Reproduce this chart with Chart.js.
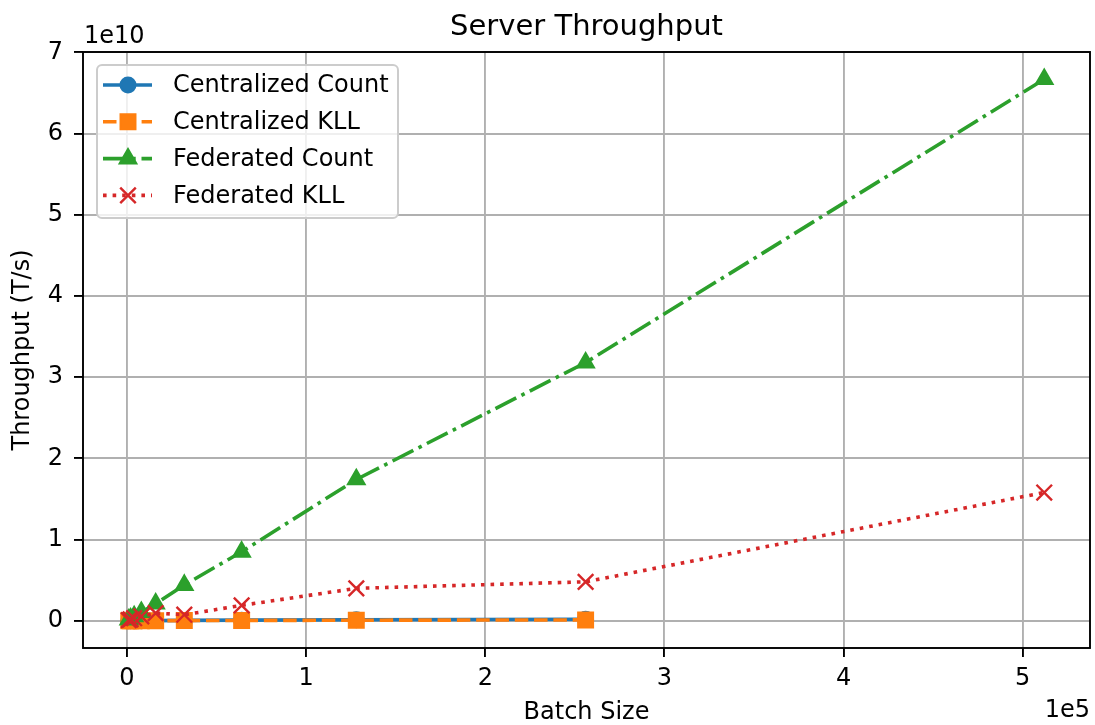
<!DOCTYPE html>
<html>
<head>
<meta charset="utf-8">
<script src="https://cdn.jsdelivr.net/npm/chart.js@4.4.1/dist/chart.umd.min.js"></script>
<style>
  html, body { margin: 0; padding: 0; background: #fff; overflow: hidden; }
  canvas { display: block; }
</style>
</head>
<body>
<canvas id="throughputChart" width="1095" height="725"></canvas>
<script>
// batch sizes (x) and throughput per series (T/s)
const batchSizes = [1000, 2000, 4000, 8000, 16000, 32000, 64000, 128000, 256000, 512000];
const centralizedCount = [2.1e6, 3.9e6, 7.5e6, 1.4e7, 2.6e7, 4.7e7, 8.2e7, 1.3e8, 1.9e8];
const centralizedKLL = [1.2e6, 2.2e6, 4.1e6, 7.6e6, 1.3e7, 2.4e7, 4.3e7, 7.1e7, 1.1e8];
const federatedCount = [1.4e8, 2.7e8, 5.3e8, 1.06e9, 2.1e9, 4.4e9, 8.5e9, 1.74e10, 3.18e10, 6.67e10];
const federatedKLL = [9e7, 1.7e8, 3.2e8, 5.5e8, 9.5e8, 7.5e8, 1.9e9, 4.0e9, 4.8e9, 1.58e10];
const seriesLabels = ['Centralized Count', 'Centralized KLL', 'Federated Count', 'Federated KLL'];
const xTicks = [0, 1, 2, 3, 4, 5];
const yTicks = [0, 1, 2, 3, 4, 5, 6, 7];

const FONT = 'DejaVu Sans';
const toPoints = (vals) => vals.map((v, i) => ({ x: batchSizes[i], y: v }));

// frame around the axes (matplotlib spines)
const framePlugin = {
  id: 'frame',
  afterDatasetsDraw(chart) {
    const { ctx, chartArea: a } = chart;
    ctx.save();
    ctx.strokeStyle = '#000';
    ctx.lineWidth = 1.9;
    ctx.strokeRect(a.left, a.top, a.right - a.left, a.bottom - a.top);
    ctx.restore();
  }
};

// legend inside the axes, upper left
const legendPlugin = {
  id: 'innerLegend',
  afterDraw(chart) {
    const { ctx } = chart;
    const x0 = 97, y0 = 65, w = 301, h = 153, r = 5;
    ctx.save();
    ctx.beginPath();
    ctx.moveTo(x0 + r, y0);
    ctx.arcTo(x0 + w, y0, x0 + w, y0 + h, r);
    ctx.arcTo(x0 + w, y0 + h, x0, y0 + h, r);
    ctx.arcTo(x0, y0 + h, x0, y0, r);
    ctx.arcTo(x0, y0, x0 + w, y0, r);
    ctx.closePath();
    ctx.fillStyle = 'rgba(255,255,255,0.8)';
    ctx.fill();
    ctx.strokeStyle = '#cccccc';
    ctx.lineWidth = 2;
    ctx.stroke();

    chart.data.datasets.forEach((ds, i) => {
      const y = 85 + i * 36.8;
      ctx.setLineDash(ds.borderDash || []);
      ctx.strokeStyle = ds.borderColor;
      ctx.lineWidth = ds.borderWidth;
      ctx.lineCap = 'butt';
      ctx.beginPath();
      ctx.moveTo(103, y);
      ctx.lineTo(152, y);
      ctx.stroke();
      ctx.setLineDash([]);
      ctx.fillStyle = ds.pointBackgroundColor;
      ctx.strokeStyle = ds.pointBorderColor;
      ctx.lineWidth = ds.pointBorderWidth;
      Chart.helpers.drawPoint(ctx, {
        pointStyle: ds.pointStyle,
        radius: ds.pointRadius,
        borderWidth: ds.pointBorderWidth,
        rotation: 0
      }, 128, y);
      ctx.fillStyle = '#000';
      ctx.font = '24px "' + FONT + '"';
      ctx.textAlign = 'left';
      ctx.textBaseline = 'middle';
      ctx.fillText(ds.label, 173, y + 1);
    });
    ctx.restore();
  }
};

// title and offset texts
const textPlugin = {
  id: 'texts',
  afterDraw(chart) {
    const { ctx, chartArea: a } = chart;
    ctx.save();
    ctx.fillStyle = '#000';
    ctx.textBaseline = 'alphabetic';
    ctx.font = '29px "' + FONT + '"';
    ctx.textAlign = 'center';
    ctx.fillText('Server Throughput', (a.left + a.right) / 2, 35);
    ctx.font = '24px "' + FONT + '"';
    ctx.textAlign = 'left';
    ctx.fillText('1e10', a.left + 1, 43);
    ctx.textAlign = 'right';
    ctx.fillText('1e5', a.right, 717);
    ctx.restore();
  }
};

const ctx = document.getElementById('throughputChart').getContext('2d');
new Chart(ctx, {
  type: 'line',
  data: {
    datasets: [
      {
        label: seriesLabels[0],
        data: toPoints(centralizedCount),
        borderColor: '#1f77b4',
        backgroundColor: '#1f77b4',
        pointBackgroundColor: '#1f77b4',
        pointBorderColor: '#1f77b4',
        borderWidth: 3.6,
        pointStyle: 'circle',
        pointRadius: 7.3,
        pointBorderWidth: 2.4,
        order: 3
      },
      {
        label: seriesLabels[1],
        data: toPoints(centralizedKLL),
        borderColor: '#ff7f0e',
        backgroundColor: '#ff7f0e',
        pointBackgroundColor: '#ff7f0e',
        pointBorderColor: '#ff7f0e',
        borderWidth: 3.6,
        borderDash: [13.5, 5.8],
        pointStyle: 'rect',
        pointRadius: 10.3,
        pointBorderWidth: 2.4,
        order: 2
      },
      {
        label: seriesLabels[2],
        data: toPoints(federatedCount),
        borderColor: '#2ca02c',
        backgroundColor: '#2ca02c',
        pointBackgroundColor: '#2ca02c',
        pointBorderColor: '#2ca02c',
        borderWidth: 3.6,
        borderDash: [23.3, 5.8, 3.6, 5.8],
        pointStyle: 'triangle',
        pointRadius: 9.3,
        pointBorderWidth: 2.4,
        order: 1
      },
      {
        label: seriesLabels[3],
        data: toPoints(federatedKLL),
        borderColor: '#d62728',
        backgroundColor: '#d62728',
        pointBackgroundColor: '#d62728',
        pointBorderColor: '#d62728',
        borderWidth: 3.6,
        borderDash: [3.6, 6.0],
        pointStyle: 'crossRot',
        pointRadius: 11,
        pointBorderWidth: 2.4,
        order: 0
      }
    ]
  },
  options: {
    responsive: false,
    animation: false,
    devicePixelRatio: 1,
    layout: { autoPadding: false, padding: { left: 0, right: 5, top: 52, bottom: 0 } },
    plugins: {
      legend: { display: false },
      title: { display: false },
      tooltip: { enabled: false }
    },
    scales: {
      x: {
        type: 'linear',
        min: -24550,
        max: 537550,
        afterBuildTicks(scale) {
          scale.ticks = xTicks.map(v => ({ value: v * 1e5 }));
        },
        afterFit(scale) {
          scale.height = 77;
          scale.paddingLeft = 0;
          scale.paddingRight = 0;
        },
        ticks: {
          callback: v => String(v / 1e5),
          font: { family: FONT, size: 24 },
          color: '#000',
          padding: 7,
          maxRotation: 0,
          autoSkip: false
        },
        grid: { color: '#b0b0b0', lineWidth: 1.9, tickColor: '#000', tickWidth: 1.9, tickLength: 9 },
        border: { display: false },
        title: {
          display: true,
          text: 'Batch Size',
          font: { family: FONT, size: 24 },
          color: '#000',
          padding: { top: 0, bottom: -2 }
        }
      },
      y: {
        type: 'linear',
        min: -0.335e10,
        max: 7.005e10,
        afterBuildTicks(scale) {
          scale.ticks = yTicks.map(v => ({ value: v * 1e10 }));
        },
        afterFit(scale) {
          scale.width = 83;
          scale.paddingTop = 0;
          scale.paddingBottom = 0;
        },
        ticks: {
          callback: v => String(Math.round(v / 1e10)),
          font: { family: FONT, size: 24 },
          color: '#000',
          padding: 11,
          autoSkip: false
        },
        grid: { color: '#b0b0b0', lineWidth: 1.9, tickColor: '#000', tickWidth: 1.9, tickLength: 9 },
        border: { display: false },
        title: {
          display: true,
          text: 'Throughput (T/s)',
          font: { family: FONT, size: 24 },
          color: '#000',
          padding: { top: 8, bottom: 0 }
        }
      }
    }
  },
  plugins: [framePlugin, legendPlugin, textPlugin]
});
</script>
</body>
</html>
